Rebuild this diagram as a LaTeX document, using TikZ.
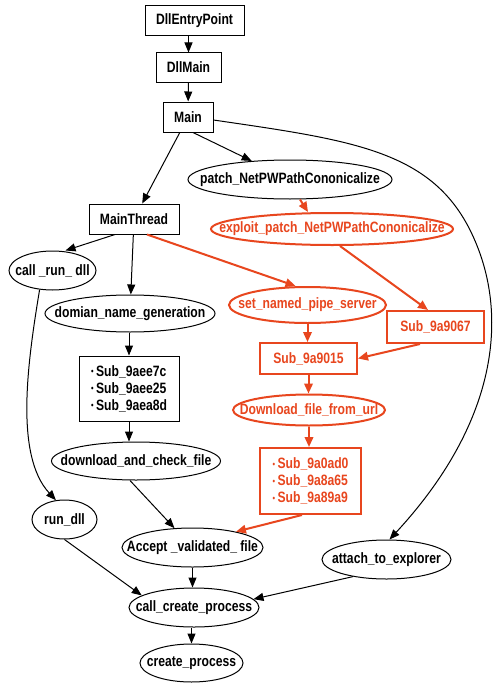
\documentclass[tikz,border=0pt]{standalone}
\usepackage{fontspec}
\setmainfont{Liberation Sans}[FakeStretch=0.81]
\usetikzlibrary{arrows.meta,shapes.geometric}
\definecolor{hl}{HTML}{E8461E}
\newcommand\bul{{\fontsize{9}{9}\selectfont\raisebox{1.5pt}{•}}\,}
\begin{document}
\begin{tikzpicture}[x=1pt,y=-1pt,
  lbl/.style={font=\bfseries\fontsize{15}{17}\selectfont, inner sep=0pt},
  box/.style={lbl, draw, rectangle, line width=1pt},
  ell/.style={draw, ellipse, inner sep=0pt, line width=1pt},
  hot/.style={draw=hl, text=hl, line width=2pt},
  arr/.style={line width=1pt, -{Triangle[length=10pt,width=8pt]}},
  harr/.style={draw=hl, line width=2pt, -{Triangle[length=10pt,width=8.5pt]}, hl}]
\useasboundingbox[fill=white] (0,0) rectangle (498,693);

\node[box, minimum width=99pt, minimum height=30pt] (dep) at (194.5,21) {DllEntryPoint};
\node[box, minimum width=65pt, minimum height=29pt] (dllmain) at (188.5,67.5) {DllMain};
\node[box, minimum width=50pt, minimum height=30pt] (main) at (188,117) {Main};
\node[ell, minimum width=204pt, minimum height=39pt] (patch) at (290,179.5) {};
\node[lbl] at (patch) {patch\_NetPWPathCononicalize};
\node[box, minimum width=90pt, minimum height=30pt] (mthread) at (134,219) {MainThread};
\node[ell, hot, minimum width=242pt, minimum height=32pt] (exploit) at (332,229) {};
\node[lbl, text=hl] at (exploit) {exploit\_patch\_NetPWPathCononicalize};
\node[ell, minimum width=87pt, minimum height=39pt] (callrun) at (52.5,270.5) {};
\node[lbl] at (callrun) {call \_run\_ dll};
\node[ell, minimum width=170pt, minimum height=37pt] (domian) at (130,313.5) {};
\node[lbl] at (domian) {domian\_name\_generation};
\node[ell, hot, minimum width=157pt, minimum height=36pt] (setpipe) at (307.5,305) {};
\node[lbl, text=hl] at (setpipe) {set\_named\_pipe\_server};
\node[box, hot, minimum width=97pt, minimum height=32pt] (s9067) at (435.5,327) {Sub\_9a9067};
\node[box, hot, minimum width=97pt, minimum height=31pt] (s9015) at (308.5,358.5) {Sub\_9a9015};
\node[box, align=left, minimum width=100pt, minimum height=65pt] (blist) at (129,388.5)
  {\bul Sub\_9aee7c\\\bul Sub\_9aee25\\\bul Sub\_9aea8d};
\node[ell, hot, minimum width=152pt, minimum height=31pt] (dlurl) at (309,410) {};
\node[lbl, text=hl] at (dlurl) {Download\_file\_from\_url};
\node[ell, minimum width=169pt, minimum height=38pt] (dlcheck) at (136,461) {};
\node[lbl] at (dlcheck) {download\_and\_check\_file};
\node[box, hot, align=left, minimum width=101pt, minimum height=66pt] (rlist) at (310.5,481)
  {\bul Sub\_9a0ad0\\\bul Sub\_9a8a65\\\bul Sub\_9a89a9};
\node[ell, minimum width=65pt, minimum height=39pt] (rundll) at (64.5,519.5) {};
\node[lbl] at (rundll) {run\_dll};
\node[ell, minimum width=141pt, minimum height=39pt] (accept) at (192.5,547.5) {};
\node[lbl] at (accept) {Accept \_validated\_ file};
\node[ell, minimum width=129pt, minimum height=39pt] (attach) at (386.5,559.5) {};
\node[lbl] at (attach) {attach\_to\_explorer};
\node[ell, minimum width=130pt, minimum height=39pt] (callcreate) at (194,607.5) {};
\node[lbl] at (callcreate) {call\_create\_process};
\node[ell, minimum width=103pt, minimum height=38pt] (create) at (191.5,663) {};
\node[lbl] at (create) {create\_process};

% black connectors
\draw[arr] (dllmain.north |- dep.south) -- (dllmain.north);
\draw[arr] (dllmain) -- (main);
\draw[arr] (main) -- (mthread);
\draw[arr] ([xshift=5pt]main.south) -- (patch);
\draw[arr] ([yshift=-3pt]main.east) .. controls (350,140) and (430,150) .. (470,230)
  .. controls (510,310) and (500,420) .. ([xshift=3pt]attach.north);
\draw[arr] ([xshift=-19pt]mthread.south) -- ([xshift=13pt]callrun.north);
\draw[arr] (mthread) -- (domian);
\draw[arr] (blist.north |- domian.south) -- (blist.north);
\draw[arr] (blist.south) -- (blist.south |- dlcheck.north);
\draw[arr] ([xshift=-6pt]dlcheck.south) -- (accept.133);
\draw[arr] (callrun.236) .. controls (28,360) and (14,455) .. (rundll.114);
\draw[arr] (rundll.south) -- (callcreate.167);
\draw[arr] (accept.south) -- (accept.south |- callcreate.north);
\draw[arr] (attach.207) -- (callcreate.8);
\draw[arr] (create.north |- callcreate.south) -- (create.north);

% red connectors
\draw[harr] ([xshift=10pt]patch.south) -- ([xshift=-24pt]exploit.north);
\draw[harr] ([xshift=8pt]exploit.south) -- ([xshift=-7.5pt]s9067.north);
\draw[harr] ([xshift=13pt]mthread.south) -- ([xshift=-12pt]setpipe.north);
\draw[harr] (setpipe.south) -- (setpipe.south |- s9015.north);
\draw[harr] ([xshift=-15.5pt]s9067.south) -- (s9015.east);
\draw[harr] (s9015.south) -- (s9015.south |- dlurl.north);
\draw[harr] (dlurl.south) -- (dlurl.south |- rlist.north);
\draw[harr] ([xshift=-8.5pt]rlist.south) -- (accept.20);
\end{tikzpicture}
\end{document}
